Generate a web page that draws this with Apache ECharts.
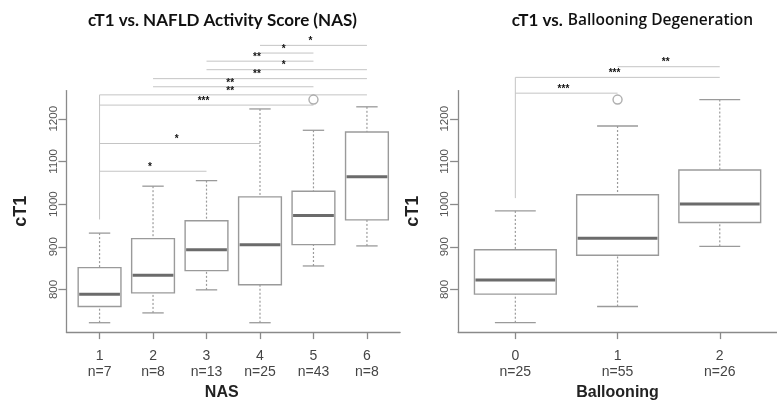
<!DOCTYPE html>
<html><head><meta charset="utf-8">
<script src="https://cdn.jsdelivr.net/npm/echarts@6/dist/echarts.min.js"></script>
<style>html,body{margin:0;padding:0;background:#fff}#c{width:777px;height:406px}</style>
</head><body><div id="c"></div>
<script>
// ---- NAS panel data ----
const nasCategories = ['1','2','3','4','5','6'];
const nasCounts = ['n=7','n=8','n=13','n=25','n=43','n=8'];
const nasMin    = [722, 745, 799, 722, 855, 902];
const nasQ1     = [760, 792, 844, 811, 905, 963];
const nasMedian = [789, 833, 893, 905, 973, 1064];
const nasQ3     = [851, 919, 961, 1017, 1030, 1169];
const nasMax    = [932, 1042, 1055, 1223, 1173, 1228];
const nasOutliers = [['5', 1245]];
const nasBrackets = [
  ['4','6',1372,'*'],
  ['4','5',1354,'*'],
  ['3','5',1335,'**'],
  ['3','6',1315,'*'],
  ['2','6',1294,'**'],
  ['2','5',1275,'**'],
  ['1','6',1256,'**'],
  ['1','5',1232,'***'],
  ['1','4',1142,'*'],
  ['1','3',1077,'*']
];
const nasLeg = [['1', 1256, 964]];

// ---- Ballooning panel data ----
const balCategories = ['0','1','2'];
const balCounts = ['n=25','n=55','n=26'];
const balMin    = [722, 760, 901];
const balQ1     = [789, 880, 957];
const balMedian = [822, 920, 1000];
const balQ3     = [893, 1022, 1080];
const balMax    = [984, 1183, 1245];
const balOutliers = [['1', 1245]];
const balBrackets = [
  ['1','2',1322,'**'],
  ['0','2',1297,'***'],
  ['0','1',1260,'***']
];
const balLeg = [['0', 1297, 1014]];

const yTicks = [800, 900, 1000, 1100, 1200];

const AX = '#8a8a8a';
const FONT = 'Liberation Sans, Arial, sans-serif';

function boxRender(params, api) {
  const x = api.value(0);
  const lo = api.coord([x, api.value(1)]);
  const q1 = api.coord([x, api.value(2)]);
  const md = api.coord([x, api.value(3)]);
  const q3 = api.coord([x, api.value(4)]);
  const hi = api.coord([x, api.value(5)]);
  const w = api.size([0.8, 0])[0];
  const cw = w / 4;
  const cx = lo[0];
  const dash = {stroke:'#9a9a9a', lineWidth:1.2, lineDash:[2,2]};
  const solid = {stroke:'#9a9a9a', lineWidth:1.3};
  return {type:'group', children:[
    {type:'line', shape:{x1:cx,y1:lo[1],x2:cx,y2:q1[1]}, style:dash},
    {type:'line', shape:{x1:cx,y1:hi[1],x2:cx,y2:q3[1]}, style:dash},
    {type:'line', shape:{x1:cx-cw,y1:lo[1],x2:cx+cw,y2:lo[1]}, style:solid},
    {type:'line', shape:{x1:cx-cw,y1:hi[1],x2:cx+cw,y2:hi[1]}, style:solid},
    {type:'rect', shape:{x:cx-w/2,y:q3[1],width:w,height:q1[1]-q3[1]}, style:{fill:'#fff',stroke:'#9a9a9a',lineWidth:1.4}},
    {type:'line', shape:{x1:cx-w/2+1,y1:md[1],x2:cx+w/2-1,y2:md[1]}, style:{stroke:'#6b6b6b',lineWidth:3}}
  ]};
}

function bracketRender(params, api) {
  const a = api.coord([api.value(0), api.value(2)]);
  const b = api.coord([api.value(1), api.value(2)]);
  const label = params.context.labels[params.dataIndex];
  return {type:'group', children:[
    {type:'line', shape:{x1:a[0],y1:a[1],x2:b[0],y2:b[1]}, style:{stroke:'#c4c4c4',lineWidth:1}},
    {type:'text', x:(a[0]+b[0])/2 - 3, y:a[1]+1, style:{text:label, align:'center', verticalAlign:'bottom', font:'bold 10px ' + FONT, fill:'#111'}}
  ]};
}

function legRender(params, api) {
  const a = api.coord([api.value(0), api.value(1)]);
  const b = api.coord([api.value(0), api.value(2)]);
  return {type:'line', shape:{x1:a[0],y1:a[1],x2:b[0],y2:b[1]}, style:{stroke:'#c4c4c4',lineWidth:1}};
}

function pos(cats, c) { return cats.indexOf(c) + 1; }

function buildBoxData(cats, mn, q1, md, q3, mx) {
  return cats.map((c, i) => [i + 1, mn[i], q1[i], md[i], q3[i], mx[i]]);
}

function panelAxes(idx, cats, counts, xname, namePad) {
  const xs = cats.map((c, i) => i + 1);
  const n = cats.length;
  const ext = 0.04 * n;
  const x = {
    gridIndex: idx, type: 'value', min: 0.5 - ext / 2, max: n + 0.5 + ext / 2,
    axisLine: {show: true, lineStyle: {color: AX, width: 1.3}},
    axisTick: {show: true, customValues: xs, length: 7, lineStyle: {color: AX, width: 1.3}},
    axisLabel: {customValues: xs, formatter: v => cats[Math.round(v) - 1] + '\n' + counts[Math.round(v) - 1],
      fontSize: 14, lineHeight: 16, color: '#444', margin: 16, fontFamily: FONT},
    splitLine: {show: false},
    name: xname, nameLocation: 'middle', nameGap: 51,
    nameTextStyle: {fontSize: 16, fontWeight: 'bold', color: '#222', fontFamily: FONT, padding: namePad}
  };
  const y = {
    gridIndex: idx, type: 'value', min: 700, max: 1266,
    axisLine: {show: true, lineStyle: {color: AX, width: 1.3}},
    axisTick: {show: true, customValues: yTicks, length: 8, lineStyle: {color: AX, width: 1.3}},
    axisLabel: {customValues: yTicks, formatter: v => String(v), rotate: 90, fontSize: 11.5, color: '#555', margin: 7, fontFamily: FONT},
    splitLine: {show: false},
    name: 'cT1', nameLocation: 'middle', nameRotate: 90, nameGap: 36,
    nameTextStyle: {fontSize: 18, fontWeight: 'bold', color: '#222', fontFamily: FONT}
  };
  return [x, y];
}

const [x0, y0] = panelAxes(0, nasCategories, nasCounts, 'NAS', [0, 23, 0, 0]);
const [x1, y1] = panelAxes(1, balCategories, balCounts, 'Ballooning', [0, 0, 0, 0]);

const nasBr = nasBrackets.map(b => [pos(nasCategories, b[0]), pos(nasCategories, b[1]), b[2]]);
const nasBrLabels = nasBrackets.map(b => b[3]);
const balBr = balBrackets.map(b => [pos(balCategories, b[0]), pos(balCategories, b[1]), b[2]]);
const balBrLabels = balBrackets.map(b => b[3]);

const chart = echarts.init(document.getElementById('c'), null, {renderer: 'canvas'});
chart.setOption({
  animation: false,
  backgroundColor: '#fff',
  title: [
    {text: 'cT1 vs. NAFLD Activity Score (NAS)', left: 217.5, top: 7, textAlign: 'center',
      textStyle: {fontFamily: 'Lato', fontWeight: 'bold', fontSize: 17, color: '#111'}},
    {text: '{b|cT1 vs.} {m|Ballooning Degeneration}', left: 627.5, top: 7, textAlign: 'center',
      textStyle: {rich: {
        b: {fontFamily: 'Lato', fontWeight: 'bold', fontSize: 17, color: '#111'},
        m: {fontFamily: 'Open Sans', fontWeight: 600, fontSize: 15.5, color: '#111'}
      }}}
  ],
  grid: [
    {left: 66.4, top: 90.6, width: 333.7, height: 246.2},
    {left: 458.1, top: 90.6, width: 333.7, height: 246.2}
  ],
  xAxis: [x0, x1],
  yAxis: [y0, y1],
  series: [
    {type: 'custom', xAxisIndex: 0, yAxisIndex: 0, renderItem: legRender, clip: false,
      encode: {x: 0, y: [1, 2]}, data: nasLeg.map(l => [pos(nasCategories, l[0]), l[1], l[2]])},
    {type: 'custom', xAxisIndex: 1, yAxisIndex: 1, renderItem: legRender, clip: false,
      encode: {x: 0, y: [1, 2]}, data: balLeg.map(l => [pos(balCategories, l[0]), l[1], l[2]])},
    {type: 'custom', xAxisIndex: 0, yAxisIndex: 0, renderItem: (p, a) => { p.context.labels = nasBrLabels; return bracketRender(p, a); },
      clip: false, encode: {x: [0, 1], y: 2}, data: nasBr},
    {type: 'custom', xAxisIndex: 1, yAxisIndex: 1, renderItem: (p, a) => { p.context.labels = balBrLabels; return bracketRender(p, a); },
      clip: false, encode: {x: [0, 1], y: 2}, data: balBr},
    {type: 'custom', xAxisIndex: 0, yAxisIndex: 0, renderItem: boxRender, clip: false,
      encode: {x: 0, y: [1, 2, 3, 4, 5]}, data: buildBoxData(nasCategories, nasMin, nasQ1, nasMedian, nasQ3, nasMax)},
    {type: 'custom', xAxisIndex: 1, yAxisIndex: 1, renderItem: boxRender, clip: false,
      encode: {x: 0, y: [1, 2, 3, 4, 5]}, data: buildBoxData(balCategories, balMin, balQ1, balMedian, balQ3, balMax)},
    {type: 'scatter', xAxisIndex: 0, yAxisIndex: 0, symbol: 'circle', symbolSize: 9,
      itemStyle: {color: '#fff', borderColor: '#9a9a9a', borderWidth: 1.4},
      data: nasOutliers.map(o => [pos(nasCategories, o[0]), o[1]])},
    {type: 'scatter', xAxisIndex: 1, yAxisIndex: 1, symbol: 'circle', symbolSize: 9,
      itemStyle: {color: '#fff', borderColor: '#9a9a9a', borderWidth: 1.4},
      data: balOutliers.map(o => [pos(balCategories, o[0]), o[1]])}
  ]
});
</script>
</body></html>
